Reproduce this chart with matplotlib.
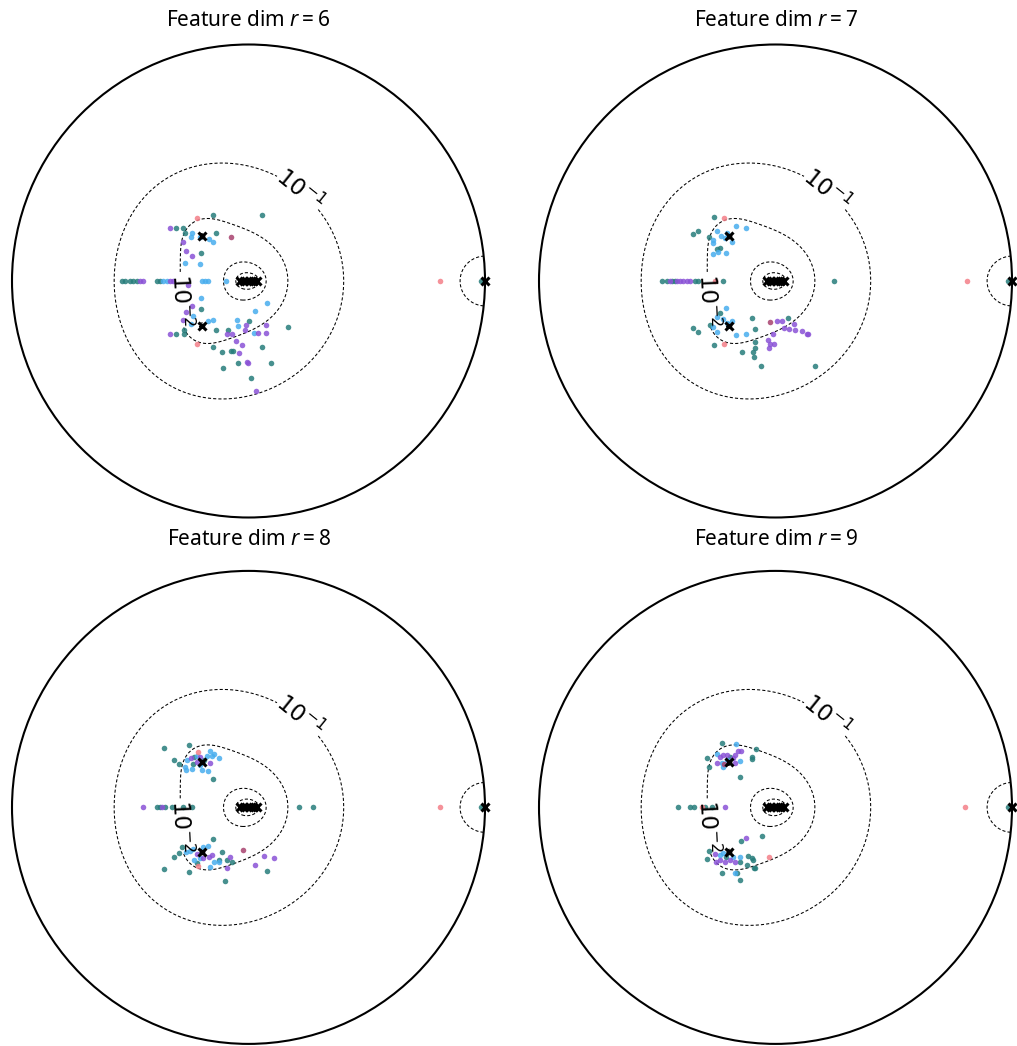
import numpy as np
import matplotlib
matplotlib.use("Agg")
import matplotlib.pyplot as plt
from matplotlib.patches import Circle

plt.rcParams['font.family'] = ['Noto Sans', 'DejaVu Sans']
plt.rcParams['mathtext.fontset'] = 'custom'
plt.rcParams['mathtext.rm'] = 'Noto Sans'
plt.rcParams['mathtext.it'] = 'Noto Sans:italic'
plt.rcParams['mathtext.bf'] = 'Noto Sans:bold'
plt.rcParams['lines.dashed_pattern'] = [3.0, 2.0]

# ---------------- data ----------------
feature_dims = [6, 7, 8, 9]

# true poles (x markers)
center_poles_re = [-0.035, -0.0175, 0.0, 0.0175, 0.035]
center_poles_im = [0.0, 0.0, 0.0, 0.0, 0.0]
pair_poles_re = [-0.197, -0.197]
pair_poles_im = [0.19, -0.19]
unit_pole_re = [1.0]
unit_pole_im = [0.0]

# contour field parameters and levels
center_weight = 1.84
pair_weight = 0.773
field_gain = 0.093
unit_gain = 0.95
contour_levels = [4.3e-4, 1.5e-3, 1e-2, 1e-1]
label_spots = [(-0.285, -0.08), (0.23, 0.40)]

# learned eigenvalues (re, im) per feature dim and colour group
teal6 = [(-0.536, 0), (-0.522, 0), (-0.501, 0), (-0.487, 0), (-0.473, 0), (-0.388, 0), (-0.374, 0),
         (-0.149, 0.279), (0.059, 0.278), (-0.307, 0.223), (-0.276, 0.223), (-0.268, 0.204), (-0.137, 0.204),
         (-0.202, 0.117), (-0.202, -0.120), (-0.137, -0.207), (-0.307, -0.223), (-0.273, -0.207),
         (-0.273, -0.224), (-0.149, -0.278), (-0.110, -0.299), (-0.085, -0.207), (0.004, -0.168),
         (-0.074, -0.297), (-0.064, -0.297), (-0.046, -0.348), (-0.109, -0.369), (0.009, -0.412),
         (0.059, -0.278), (0.094, -0.348), (0.169, -0.193), (0.985, 0)]
blue6 = [(-0.360, 0), (-0.346, 0), (-0.198, 0), (-0.184, 0), (-0.170, 0), (-0.095, 0),
         (-0.238, 0.202), (-0.245, 0.185), (-0.205, 0.185), (-0.167, 0.176), (-0.149, 0.163), (-0.268, 0.075),
         (-0.205, 0.072), (-0.202, -0.073), (-0.245, -0.183), (-0.233, -0.148), (-0.170, -0.168),
         (-0.149, -0.165), (-0.050, -0.165), (-0.043, -0.189), (0.029, -0.128), (0.080, -0.092), (0.023, -0.221)]
purple6 = [(-0.459, 0), (-0.445, 0), (-0.332, 0), (-0.321, 0), (-0.254, -0.017),
           (-0.332, 0.223), (-0.276, 0.166), (-0.264, 0.128), (-0.240, 0.106),
           (-0.240, -0.106), (-0.264, -0.130), (-0.276, -0.165), (-0.332, -0.223), (-0.089, -0.225),
           (-0.071, -0.225), (-0.011, -0.186), (-0.015, -0.207), (-0.053, -0.252), (-0.029, -0.271),
           (-0.040, -0.303), (-0.008, -0.342), (-0.004, -0.348), (0.030, -0.465), (0.041, -0.218),
           (0.076, -0.185), (0.076, -0.218)]
pink6 = [(-0.219, 0.268), (-0.219, -0.268), (0.81, 0)]
maroon6 = [(-0.075, 0.187)]

teal7 = [(-0.481, 0), (-0.460, 0), (-0.439, 0), (-0.425, 0), (-0.340, 0), (-0.326, 0), (-0.223, 0), (0.247, 0),
         (-0.260, 0.272), (-0.329, 0.213), (-0.347, 0.199), (-0.280, 0.187), (-0.246, 0.134), (-0.235, 0.138),
         (-0.235, -0.134), (-0.277, -0.186), (-0.347, -0.197), (-0.329, -0.214), (-0.260, -0.271),
         (-0.099, -0.158), (-0.087, -0.204), (0.051, -0.158), (-0.087, -0.256), (-0.087, -0.285),
         (-0.094, -0.299), (-0.090, -0.323), (-0.143, -0.302), (-0.063, -0.358), (0.167, -0.358), (0.985, 0)]
blue7 = [(-0.167, 0.233), (-0.126, 0.223), (-0.249, 0.211), (-0.230, 0.190), (-0.214, 0.180), (-0.204, 0.204),
         (-0.185, 0.166), (-0.263, 0.173), (-0.266, 0.159), (-0.266, 0.114), (-0.242, 0.124), (-0.209, 0.117),
         (-0.209, -0.113), (-0.246, -0.151), (-0.263, -0.193), (-0.249, -0.214), (-0.223, -0.162),
         (-0.206, -0.179), (-0.185, -0.168), (-0.167, -0.230), (-0.126, -0.224)]
purple7 = [(-0.446, 0), (-0.418, 0), (-0.404, 0), (-0.390, 0), (-0.376, 0), (-0.362, 0),
           (0.005, -0.168), (0.026, -0.169), (0.036, -0.197), (0.057, -0.203), (0.079, -0.182), (0.082, -0.207),
           (0.110, -0.211), (0.132, -0.224), (0.139, -0.225), (-0.012, -0.225), (-0.030, -0.249),
           (-0.023, -0.266), (-0.006, -0.268), (-0.027, -0.285)]
pink7 = [(-0.218, 0.268), (-0.218, -0.268), (0.81, 0), (-0.256, 0)]
maroon7 = [(-0.023, -0.172)]

teal8 = [(-0.388, 0), (-0.374, 0), (-0.353, 0), (-0.325, 0), (-0.278, 0), (-0.240, 0), (0.213, 0), (0.274, 0),
         (-0.357, 0.250), (-0.250, 0.262), (-0.314, 0.200), (-0.294, 0.183), (-0.231, 0.215), (-0.188, 0.200),
         (-0.236, 0.183), (-0.152, 0.121), (-0.152, -0.133), (-0.282, -0.166), (-0.294, -0.194),
         (-0.314, -0.208), (-0.219, -0.236), (-0.113, -0.187), (-0.124, -0.222), (-0.090, -0.222),
         (-0.071, -0.230), (0.077, -0.268), (-0.357, -0.260), (-0.250, -0.273), (-0.101, -0.313), (0.985, 0)]
blue8 = [(-0.268, 0.172), (-0.258, 0.200), (-0.217, 0.218), (-0.176, 0.218), (-0.162, 0.240), (-0.144, 0.226),
         (-0.156, 0.217), (-0.125, 0.208), (-0.205, 0.179), (-0.264, 0.158), (-0.240, 0.161), (-0.198, 0.158),
         (-0.170, 0.155), (-0.170, -0.164), (-0.191, -0.166), (-0.264, -0.187), (-0.247, -0.183),
         (-0.233, -0.177), (-0.231, -0.222), (-0.205, -0.215), (-0.144, -0.229), (-0.125, -0.229), (-0.163, -0.250)]
purple8 = [(-0.447, 0), (-0.367, 0), (-0.244, 0.208), (-0.203, 0.212), (-0.219, 0.194), (-0.163, 0.189),
           (-0.216, -0.197), (-0.191, -0.215), (-0.165, -0.208), (-0.155, -0.201), (-0.078, -0.211),
           (-0.092, -0.255), (0.027, -0.244), (0.067, -0.205), (0.108, -0.212)]
pink8 = [(-0.212, 0.236), (-0.212, -0.246), (0.81, 0)]
maroon8 = [(-0.022, -0.180)]

teal9 = [(-0.414, 0), (-0.361, 0), (-0.345, 0), (-0.298, 0), (-0.270, 0),
         (-0.228, 0.271), (-0.084, 0.246), (-0.288, 0.207), (-0.281, 0.169), (-0.193, 0.212), (-0.101, 0.214),
         (-0.098, 0.203), (-0.150, 0.127), (-0.147, -0.142), (-0.058, -0.120), (-0.280, -0.183),
         (-0.288, -0.220), (-0.209, -0.208), (-0.150, -0.230), (-0.115, -0.204), (-0.101, -0.215),
         (-0.119, -0.243), (-0.094, -0.222), (-0.090, -0.256), (-0.087, -0.258), (-0.228, -0.279),
         (-0.161, -0.276), (-0.152, -0.307), (0.985, 0)]
blue9 = [(-0.168, 0.267), (-0.249, 0.226), (-0.228, 0.189), (-0.207, 0.200), (-0.221, 0.172), (-0.150, 0.198),
         (-0.235, -0.201), (-0.221, -0.194), (-0.178, -0.208), (-0.150, -0.208), (-0.171, -0.276)]
purple9 = [(-0.214, 0), (-0.235, 0.215), (-0.221, 0.222), (-0.207, 0.222), (-0.171, 0.222), (-0.157, 0.239),
           (-0.147, 0.239), (-0.178, 0.209), (-0.249, 0.186), (-0.171, 0.186),
           (-0.126, -0.128), (-0.256, -0.197), (-0.253, -0.230), (-0.235, -0.222), (-0.213, -0.230),
           (-0.193, -0.222), (-0.171, -0.230)]
pink9 = [(-0.312, 0), (-0.026, -0.211), (0.80, 0)]
maroon9 = [(-0.216, 0.184)]

groups = {
    6: [teal6, blue6, purple6, pink6, maroon6],
    7: [teal7, blue7, purple7, pink7, maroon7],
    8: [teal8, blue8, purple8, pink8, maroon8],
    9: [teal9, blue9, purple9, pink9, maroon9],
}
group_colors = ['#277d7b', '#48adee', '#8a52d6', '#f47f88', '#a8426f']

# ---------------- field ----------------
def field(X, Y):
    Z = X + 1j * Y
    logf = np.full(Z.shape, field_gain)
    for r, i in zip(center_poles_re, center_poles_im):
        logf += center_weight / len(center_poles_re) * np.log(np.abs(Z - (r + 1j * i)) + 1e-12)
    for r, i in zip(pair_poles_re, pair_poles_im):
        logf += pair_weight * np.log(np.abs(Z - (r + 1j * i)) + 1e-12)
    f_main = np.exp(logf)
    f_unit = unit_gain * np.abs(Z - (unit_pole_re[0] + 1j * unit_pole_im[0]))
    f = np.minimum(f_main, f_unit)
    f[np.abs(Z) > 1.0] = np.nan
    return f

g = np.linspace(-1.05, 1.05, 900)
GX, GY = np.meshgrid(g, g)
F = field(GX, GY)

def fmt(v):
    return r'$10^{%d}$' % int(round(np.log10(v)))

# ---------------- figure ----------------
W, H = 1017, 1046
fig = plt.figure(figsize=(W / 100, H / 100), dpi=100)
centers = [(248.5, 281.0), (775.5, 281.0), (248.5, 807.4), (775.5, 807.4)]
R = 236.5
lim = 1.05
half = R * lim
title_base = [26.0, 545.0]

for k, (dim, (cx, cy)) in enumerate(zip(feature_dims, centers)):
    ax = fig.add_axes([(cx - half) / W, (H - cy - half) / H, 2 * half / W, 2 * half / H])
    ax.set_xlim(-lim, lim)
    ax.set_ylim(-lim, lim)
    ax.set_aspect('equal')
    ax.axis('off')
    ax.add_patch(Circle((0, 0), 1.0, fill=False, lw=1.5, color='black', zorder=1))
    cs = ax.contour(GX, GY, F, levels=contour_levels, colors='black', linewidths=0.75,
                    linestyles='--', zorder=2)
    labels = ax.clabel(cs, fmt=fmt, fontsize=16.5, inline=True, manual=label_spots)
    for t in labels:
        t.set_math_fontfamily('dejavusans')
    for pts, col in zip(groups[dim], group_colors):
        arr = np.array(pts, dtype=float)
        ax.scatter(arr[:, 0], arr[:, 1], s=16, color=col, alpha=0.85, linewidths=0, zorder=3)
    ax.plot(center_poles_re, center_poles_im, 'x', color='black', ms=6, mew=2.2, zorder=4)
    ax.plot(pair_poles_re, pair_poles_im, 'x', color='black', ms=6, mew=2.2, zorder=4)
    ax.plot(unit_pole_re, unit_pole_im, 'x', color='black', ms=6, mew=2.2, zorder=4)
    fig.text(cx / W, 1 - title_base[k // 2] / H, r'Feature dim $r = %d$' % dim,
             ha='center', va='baseline', fontsize=15)

fig.savefig('out.png', dpi=100)
